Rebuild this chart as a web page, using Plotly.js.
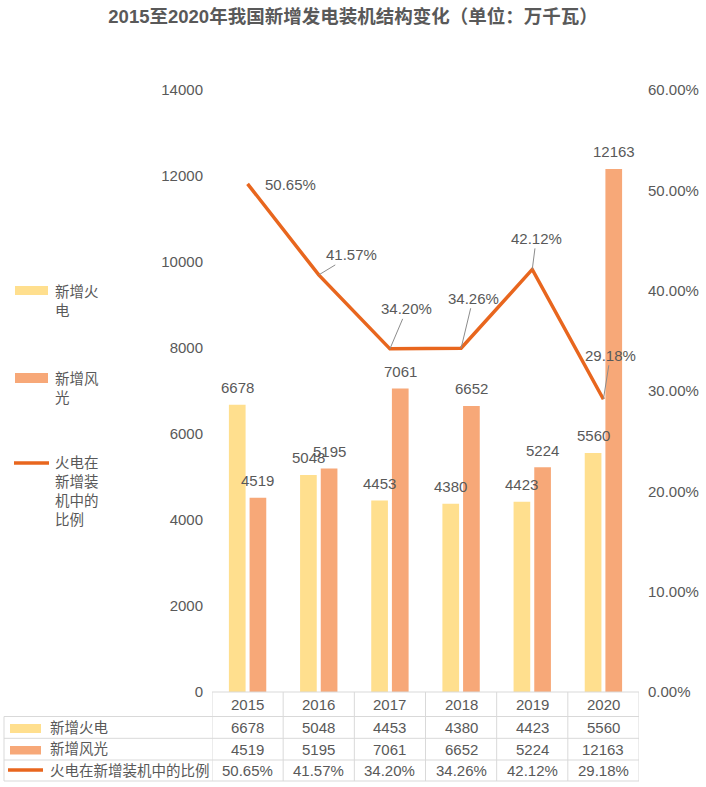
<!DOCTYPE html>
<html>
<head>
<meta charset="utf-8">
<script src="https://cdn.plot.ly/plotly-3.0.1.min.js"></script>
<style>
  html, body { margin: 0; padding: 0; background: #fff; }
  #chart { width: 706px; height: 787px; }
</style>
</head>
<body>
<div id="chart"></div>
<script>
// data
var categories = ['2015', '2016', '2017', '2018', '2019', '2020'];
var thermal = [6678, 5048, 4453, 4380, 4423, 5560];
var windSolar = [4519, 5195, 7061, 6652, 5224, 12163];
var thermalShare = [0.5065, 0.4157, 0.3420, 0.3426, 0.4212, 0.2918];
var seriesNames = ['新增火电', '新增风光', '火电在新增装机中的比例'];
var legendNames = ['新增火<br>电', '新增风<br>光', '火电在<br>新增装<br>机中的<br>比例'];

// label placement for the share line (pixel offsets, leader line on/off)
var shareLabelPos = [[43, 1, false], [33, -20, true], [17, -40, true], [12, -50, true], [4, -31, true], [7, -44, true]];

var yellow = '#FFDF8E';
var orange = '#F7A878';
var lineCol = '#E8661E';
var textCol = '#595959';
var borderCol = '#D9D9D9';
var font = 'Liberation Sans, Noto Sans CJK SC, sans-serif';

// page pixel -> paper coords (plot area 212..639 x 90..692)
var L = 212, R = 67, T = 90, B = 95, W = 706, H = 787;
function px(x) { return (x - L) / (W - L - R); }
function py(y) { return (H - B - y) / (H - T - B); }

var traces = [
    {
        type: 'bar', name: seriesNames[0], x: categories, y: thermal,
        marker: {color: yellow}, hoverinfo: 'x+y'
    },
    {
        type: 'bar', name: seriesNames[1], x: categories, y: windSolar,
        marker: {color: orange}, hoverinfo: 'x+y'
    },
    {
        type: 'scatter', mode: 'lines', name: seriesNames[2], x: categories, y: thermalShare,
        yaxis: 'y2', line: {color: lineCol, width: 3.5}, hoverinfo: 'x+y'
    }
];

var annotations = [];
var shapes = [];

// bar value labels (x = category index on the category axis)
categories.forEach(function (c, i) {
    annotations.push({x: i, y: thermal[i], xref: 'x', yref: 'y', text: String(thermal[i]),
        showarrow: false, xshift: -10.4, yshift: 17, yanchor: 'middle',
        font: {size: 15, color: textCol}});
    annotations.push({x: i, y: windSolar[i], xref: 'x', yref: 'y', text: String(windSolar[i]),
        showarrow: false, xshift: 10.4, yshift: 17, yanchor: 'middle',
        font: {size: 15, color: textCol}});
});

// share line labels
categories.forEach(function (c, i) {
    var p = shareLabelPos[i];
    annotations.push({x: i, y: thermalShare[i], xref: 'x', yref: 'y2',
        text: (thermalShare[i] * 100).toFixed(2) + '%',
        showarrow: true, arrowhead: 0, arrowwidth: 1, standoff: 0,
        arrowcolor: p[2] ? '#8C8C8C' : 'rgba(0,0,0,0)',
        ax: p[0], ay: p[1], font: {size: 15, color: textCol}});
});

// data table
var rowCenters = [727.5, 749, 770.5];
var rowValues = [
    thermal.map(String),
    windSolar.map(String),
    thermalShare.map(function (v) { return (v * 100).toFixed(2) + '%'; })
];
categories.forEach(function (c, i) {
    annotations.push({x: i, y: py(704), xref: 'x', yref: 'paper', text: c, showarrow: false,
        yanchor: 'middle', font: {size: 15, color: textCol}});
    rowValues.forEach(function (vals, r) {
        annotations.push({x: i, y: py(rowCenters[r]), xref: 'x', yref: 'paper', text: vals[i],
            showarrow: false, yanchor: 'middle', font: {size: 15, color: textCol}});
    });
});
seriesNames.forEach(function (n, r) {
    annotations.push({x: px(48), y: py(rowCenters[r]), xref: 'paper', yref: 'paper', text: n,
        showarrow: false, xanchor: 'left', yanchor: 'middle', font: {size: 14.5, color: textCol}});
});
shapes.push({type: 'rect', xref: 'paper', yref: 'paper', x0: px(10), x1: px(41), y0: py(724), y1: py(733),
    fillcolor: yellow, line: {width: 0}});
shapes.push({type: 'rect', xref: 'paper', yref: 'paper', x0: px(10), x1: px(41), y0: py(746), y1: py(754.5),
    fillcolor: orange, line: {width: 0}});
shapes.push({type: 'line', xref: 'paper', yref: 'paper', x0: px(8), x1: px(43), y0: py(770), y1: py(770),
    line: {color: lineCol, width: 3.5}});

// table grid
var border = {color: borderCol, width: 1};
for (var k = 0; k <= categories.length; k++) {
    shapes.push({type: 'line', xref: 'x', yref: 'paper', x0: k - 0.5, x1: k - 0.5, y0: py(692), y1: py(781), line: border});
}
shapes.push({type: 'line', xref: 'paper', yref: 'paper', x0: px(4), x1: px(4), y0: py(716.5), y1: py(781), line: border});
shapes.push({type: 'line', xref: 'paper', yref: 'paper', x0: 0, x1: 1, y0: 0, y1: 0, line: border});
[716.5, 738.3, 760, 781].forEach(function (yy) {
    shapes.push({type: 'line', xref: 'paper', yref: 'paper', x0: px(4), x1: 1, y0: py(yy), y1: py(yy), line: border});
});

// left legend
shapes.push({type: 'rect', xref: 'paper', yref: 'paper', x0: px(15), x1: px(48), y0: py(286), y1: py(295),
    fillcolor: yellow, line: {width: 0}});
shapes.push({type: 'rect', xref: 'paper', yref: 'paper', x0: px(15), x1: px(48), y0: py(373), y1: py(383),
    fillcolor: orange, line: {width: 0}});
shapes.push({type: 'line', xref: 'paper', yref: 'paper', x0: px(14), x1: px(49), y0: py(463), y1: py(463),
    line: {color: lineCol, width: 3.5}});
var legendTops = [282, 369, 453];
legendNames.forEach(function (n, r) {
    annotations.push({x: px(53), y: py(legendTops[r]), xref: 'paper', yref: 'paper', text: n,
        showarrow: false, xanchor: 'left', yanchor: 'top', align: 'left',
        font: {size: 14.5, color: textCol}});
});

var layout = {
    width: W, height: H,
    margin: {l: L, r: R, t: T, b: B, pad: 0},
    paper_bgcolor: '#fff', plot_bgcolor: 'rgba(0,0,0,0)',
    font: {family: font, color: textCol, size: 15},
    title: {
        text: '2015至2020年我国新增发电装机结构变化（单位：万千瓦）',
        x: 0.5, xanchor: 'center', xref: 'container',
        y: 1 - 17 / H, yanchor: 'middle', yref: 'container',
        font: {family: font, size: 18.5, color: textCol, weight: 'bold'}
    },
    showlegend: false,
    barmode: 'group', bargap: 0.419, bargroupgap: 0.193,
    xaxis: {type: 'category', range: [-0.5, 5.5], showticklabels: false, showgrid: false,
        zeroline: false, showline: false, ticks: ''},
    yaxis: {range: [0, 14000], dtick: 2000, tickformat: 'd', showgrid: false, zeroline: false, showline: false,
        ticks: '', ticklabelstandoff: 8, tickfont: {size: 15, color: textCol}},
    yaxis2: {range: [0, 0.6], dtick: 0.1, tickformat: '.2%', overlaying: 'y', side: 'right',
        showgrid: false, zeroline: false, showline: false, ticks: '', ticklabelstandoff: 8,
        tickfont: {size: 15, color: textCol}},
    annotations: annotations,
    shapes: shapes
};

Plotly.newPlot('chart', traces, layout, {displayModeBar: false, staticPlot: true});
</script>
</body>
</html>
